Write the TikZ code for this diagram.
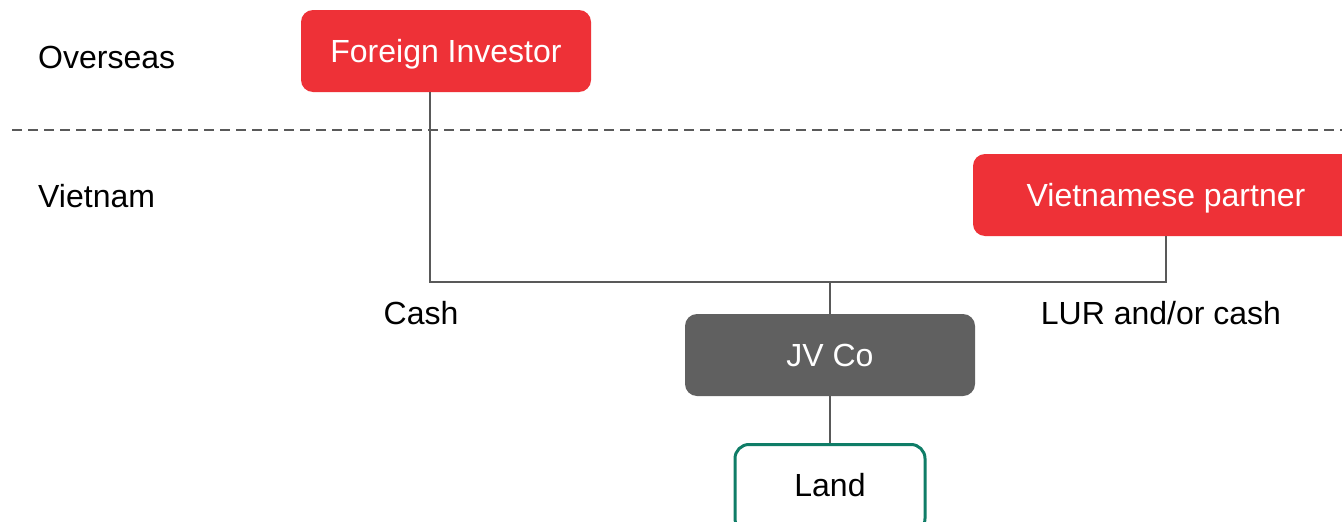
\documentclass[tikz,border=0pt]{standalone}
\usepackage{fontspec}
\setmainfont{Liberation Sans}
\usepackage{tikz}
\usetikzlibrary{calc}

\definecolor{boxred}{RGB}{238,49,55}
\definecolor{boxgrey}{RGB}{96,96,96}
\definecolor{landgreen}{RGB}{15,125,103}
\definecolor{linegrey}{RGB}{89,89,89}

\tikzset{
    party/.style={rectangle, rounded corners=12pt, fill=boxred, text=white,
        minimum width=290pt, minimum height=82pt, inner sep=0pt,
        text height=23pt, text depth=0pt},
    company/.style={party, fill=boxgrey},
    asset/.style={rectangle, rounded corners=14pt, draw=landgreen, line width=3pt,
        fill=white, text=black, minimum width=190pt, minimum height=88pt,
        inner sep=0pt, text height=23pt, text depth=7pt},
    label/.style={inner sep=0pt, text height=23pt, text depth=0pt},
    link/.style={draw=linegrey, line width=2pt}
}

\begin{document}
\begin{tikzpicture}[x=1pt, y=-1pt, font=\fontsize{32}{38}\selectfont]
        \useasboundingbox[fill=white] (0,0) rectangle (1342,522);

        % border line
        \draw[linegrey, line width=2pt, dash pattern=on 10pt off 6pt] (12,130) -- (1342,130);
        \node[label, anchor=west] (overseas) at (38,57) {Overseas};
        \node[label, anchor=west] (vietnam) at (38,196) {Vietnam};

        % shareholders
        \node[party] (investor) at (446,51) {Foreign Investor};
        \node[party, minimum width=386pt] (partner) at (1166,195) {Vietnamese partner};

        % joint venture
        \node[company] (jv) at (830,355) {JV Co};
        \node[asset] (land) at (830,488.5) {Land};

        \coordinate (left) at (430,282);
        \coordinate (right) at (1166,282);
        \draw[link] (investor.south -| left) -- (left) -- (right) -- (partner.south);
        \draw[link] (jv.north) -- (jv.north |- left);
        \draw[link] (jv.south) -- (land.north);

        \node[label] (cash) at (421,313) {Cash};
        \node[label] (lur) at (1161,313) {LUR and/or cash};
    \end{tikzpicture}
\end{document}
